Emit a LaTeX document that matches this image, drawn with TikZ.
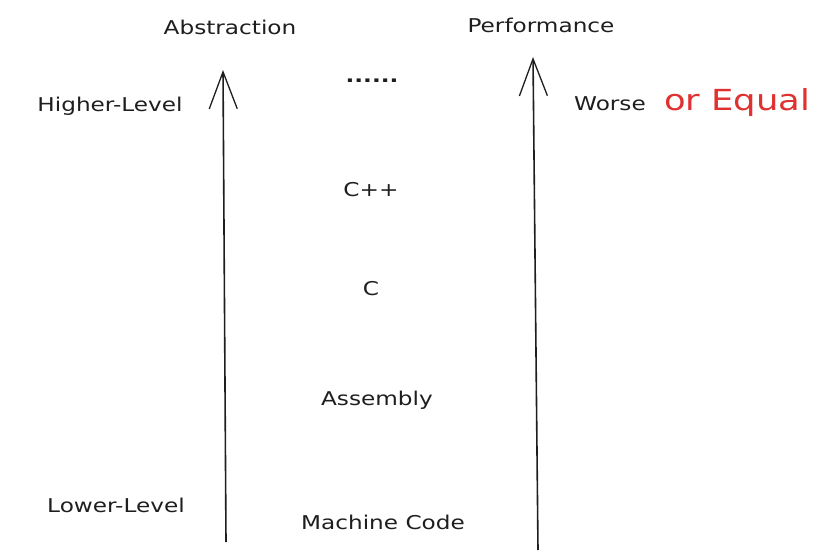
\documentclass[tikz,border=0pt]{standalone}
\usepackage{fontspec}
\setmainfont[FakeStretch=1.22]{DejaVu Sans}
\usetikzlibrary{arrows.meta,positioning}
\definecolor{skink}{RGB}{30,30,30}
\definecolor{skred}{RGB}{224,49,49}

\begin{document}
\begin{tikzpicture}[
  x=1pt,
  y=-1pt,
  lbl/.style={
    text=skink,
    font=\fontsize{19}{22}\selectfont,
    inner sep=1pt
  },
  big/.style={
    text=skred,
    font=\fontsize{29}{33}\selectfont,
    inner sep=1pt
  },
  axis/.style={
    draw=skink,
    line width=1.6pt,
    -{Straight Barb[length=37pt,width=28pt,line width=1.3pt]}
  }
]
\useasboundingbox (0,0) rectangle (830,559);

% headings
\node[lbl] (abs) at (230,27) {Abstraction};
\node[lbl] (perf) at (541,25) {Performance};

% levels
\node[lbl] (high) at (110,106) {Higher-Level};
\node[lbl] (low) at (116,505) {Lower-Level};

% languages
\node[lbl] (more) at (372,81) {\textbf{......}};
\node[lbl] (cpp) at (371,190) {C++};
\node[lbl] (c) at (371,289) {C};
\node[lbl] (asm) at (377,400) {Assembly};
\node[lbl] (mc) at (383,522) {Machine Code};

% performance
\node[lbl] (worse) at (610,104) {Worse};
\node[big, anchor=base west] (equal) at ([xshift=16pt]worse.base east) {or Equal};

\coordinate (absbot) at (226,542);
\coordinate (abstop) at (223,70);
\coordinate (perfbot) at (538,550);
\coordinate (perftop) at (533,57);

\draw[axis] (absbot) -- (abstop);
\draw[axis] (perfbot) -- (perftop);

\end{tikzpicture}
\end{document}
